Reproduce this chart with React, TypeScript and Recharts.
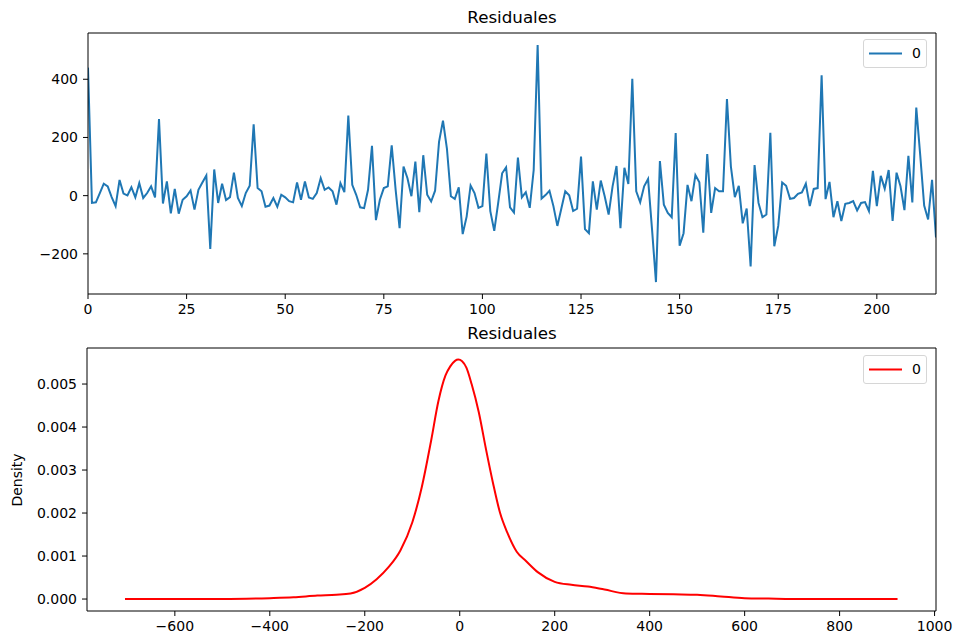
import React from 'react';
import { LineChart, Line, XAxis, YAxis } from 'recharts';

const residualValues: number[] = [
  440, -25, -23, 9, 41, 32, -5, -36, 54, 7,
  1, 29, -6, 43, -8, 9, 32, -6, 263, -27,
  49, -61, 23, -62, -14, -2, 18, -48, 20, 45,
  69, -183, 90, -25, 41, -15, -5, 79, -8, -36,
  9, 34, 245, 26, 15, -38, -34, -8, -38, 3,
  -6, -19, -23, 45, -14, 49, -6, -11, 9, 60,
  20, 28, 15, -31, 43, 12, 275, 37, 3, -40,
  -43, 20, 171, -84, -14, 26, 32, 173, 20, -112,
  100, 60, -2, 117, -57, 139, 3, -20, 17, 185,
  258, 162, -2, -11, 29, -132, -72, 35, 9, -42,
  -36, 145, -53, -121, -25, 77, 97, -40, -58, 131,
  -6, 12, -42, 88, 518, -10, 2, 17, -36, -104,
  -45, 15, 1, -53, -45, 134, -115, -129, 49, -48,
  52, -2, -65, 32, 102, -112, 96, 40, 402, 15,
  -23, 32, 57, -115, -297, 119, -31, -59, -74, 215,
  -172, -129, 37, -19, 71, 46, -127, 143, -59, 26,
  15, 15, 332, 100, -5, 34, -95, -44, -243, 105,
  -25, -74, -65, 216, -174, -104, 45, 34, -11, -8,
  6, 11, 41, -36, 23, 26, 414, -12, 47, -74,
  -19, -87, -28, -25, -19, -51, -25, -22, -53, 85,
  -36, 68, 24, 88, -87, 79, 32, -50, 137, -23,
  303, 139, -34, -82, 54, -144,
];
const residualTicksX: number[] = [0, 25, 50, 75, 100, 125, 150, 175, 200];
const residualTicksY: number[] = [-200, 0, 200, 400];

const densityX: number[] = [
  -705, -600, -500, -400, -350, -300, -260, -230, -200, -175,
  -150, -125, -100, -80, -60, -45, -30, -20, -10, -3, 5, 14,
  25, 40, 55, 70, 85, 100, 120, 140, 165, 200,
  235, 270, 305, 350, 400, 450, 500, 550, 600, 650,
  700, 800, 922,
];
const densityY: number[] = [
  0, 0, 0, 0.00002, 0.00004, 0.00008, 0.0001, 0.00013, 0.00026, 0.00046,
  0.00074, 0.00113, 0.00178, 0.0026, 0.0037, 0.0046, 0.0052, 0.00541, 0.00554, 0.00557, 0.00553, 0.00538,
  0.005, 0.00435, 0.0035, 0.0027, 0.002, 0.00155, 0.0011, 0.00088, 0.00062, 0.0004,
  0.00033, 0.00029, 0.00022, 0.00013, 0.00012, 0.00011, 0.0001, 0.00006, 0.00002, 0.00001,
  0, 0, 0,
];
const densityTicksX: number[] = [-600, -400, -200, 0, 200, 400, 600, 800, 1000];
const densityTicksY: number[] = [0, 0.001, 0.002, 0.003, 0.004, 0.005];

const chartTitle = 'Residuales';
const seriesName = '0';
const densityLabel = 'Density';

const residualData = residualValues.map((v, i) => ({ i, v }));
const densityData = densityX.map((x, k) => ({ x, d: densityY[k] }));

const FONT = '"DejaVu Sans", sans-serif';
const tickStyle = { fill: '#000', fontSize: 14, fontFamily: FONT };
const minus = (s: string) => s.replace('-', '\u2212');

function LegendBox({ top, color }: { top: number; color: string }) {
  return (
    <div
      style={{
        position: 'absolute',
        left: 863,
        top,
        width: 64,
        height: 29,
        border: '1px solid #d6d6d6',
        borderRadius: 3,
        background: 'rgba(255,255,255,0.8)',
        boxSizing: 'border-box',
      }}
    >
      <svg width={62} height={27} style={{ position: 'absolute', left: 0, top: 0 }}>
        <line x1={5} x2={38} y1={13.5} y2={13.5} stroke={color} strokeWidth={2} />
      </svg>
      <span
        style={{
          position: 'absolute',
          left: 48,
          top: 5,
          fontSize: 14,
          lineHeight: '16px',
          fontFamily: FONT,
          color: '#000',
        }}
      >
        {seriesName}
      </span>
    </div>
  );
}

function Title({ y }: { y: number }) {
  return (
    <div
      style={{
        position: 'absolute',
        left: 512,
        top: y,
        transform: 'translate(-50%, -50%)',
        fontSize: 16.7,
        fontFamily: FONT,
        color: '#000',
        whiteSpace: 'nowrap',
      }}
    >
      {chartTitle}
    </div>
  );
}

export default function App() {
  return (
    <div style={{ position: 'absolute', left: 0, top: 0, width: 954, height: 639, background: '#fff' }}>
      <div style={{ position: 'absolute', left: 0, top: 0 }}>
        <LineChart width={954} height={320} data={residualData} margin={{ top: 32, right: 17, bottom: 0, left: 0 }}>
          <XAxis
            dataKey="i"
            type="number"
            domain={[0, 215]}
            ticks={residualTicksX}
            interval={0}
            height={26}
            tick={tickStyle}
            tickSize={5}
            tickMargin={5}
            stroke="#000"
            allowDataOverflow
          />
          <XAxis xAxisId="top" orientation="top" type="number" domain={[0, 215]} height={1} tick={false} tickLine={false} stroke="#000" />
          <YAxis
            type="number"
            domain={[-338, 559]}
            ticks={residualTicksY}
            interval={0}
            width={88}
            tick={tickStyle}
            tickSize={5}
            tickMargin={5}
            tickFormatter={(v: number) => minus(String(v))}
            stroke="#000"
            allowDataOverflow
          />
          <YAxis yAxisId="r" orientation="right" type="number" domain={[-338, 559]} width={1} tick={false} tickLine={false} stroke="#000" />
          <Line type="linear" dataKey="v" stroke="#1f77b4" strokeWidth={2} dot={false} isAnimationActive={false} />
        </LineChart>
      </div>
      <div style={{ position: 'absolute', left: 0, top: 320 }}>
        <LineChart width={954} height={319} data={densityData} margin={{ top: 27, right: 17, bottom: 0, left: 0 }}>
          <XAxis
            dataKey="x"
            type="number"
            domain={[-785, 1003]}
            ticks={densityTicksX}
            interval={0}
            height={28}
            tick={tickStyle}
            tickSize={5}
            tickMargin={5}
            tickFormatter={(v: number) => minus(String(v))}
            stroke="#000"
            allowDataOverflow
          />
          <XAxis xAxisId="top" orientation="top" type="number" domain={[-785, 1003]} height={1} tick={false} tickLine={false} stroke="#000" />
          <YAxis
            type="number"
            domain={[-0.000278, 0.005838]}
            ticks={densityTicksY}
            interval={0}
            width={87}
            tick={tickStyle}
            tickSize={5}
            tickMargin={5}
            tickFormatter={(v: number) => v.toFixed(3)}
            stroke="#000"
            allowDataOverflow
          />
          <YAxis yAxisId="r" orientation="right" type="number" domain={[-0.000278, 0.005838]} width={1} tick={false} tickLine={false} stroke="#000" />
          <Line type="monotone" dataKey="d" stroke="#ff0000" strokeWidth={2} dot={false} isAnimationActive={false} />
        </LineChart>
      </div>
      <Title y={17} />
      <Title y={333} />
      <div
        style={{
          position: 'absolute',
          left: 17,
          top: 480,
          transform: 'translate(-50%, -50%) rotate(-90deg)',
          fontSize: 14,
          fontFamily: FONT,
          color: '#000',
          whiteSpace: 'nowrap',
        }}
      >
        {densityLabel}
      </div>
      <LegendBox top={39} color="#1f77b4" />
      <LegendBox top={355} color="#ff0000" />
    </div>
  );
}
